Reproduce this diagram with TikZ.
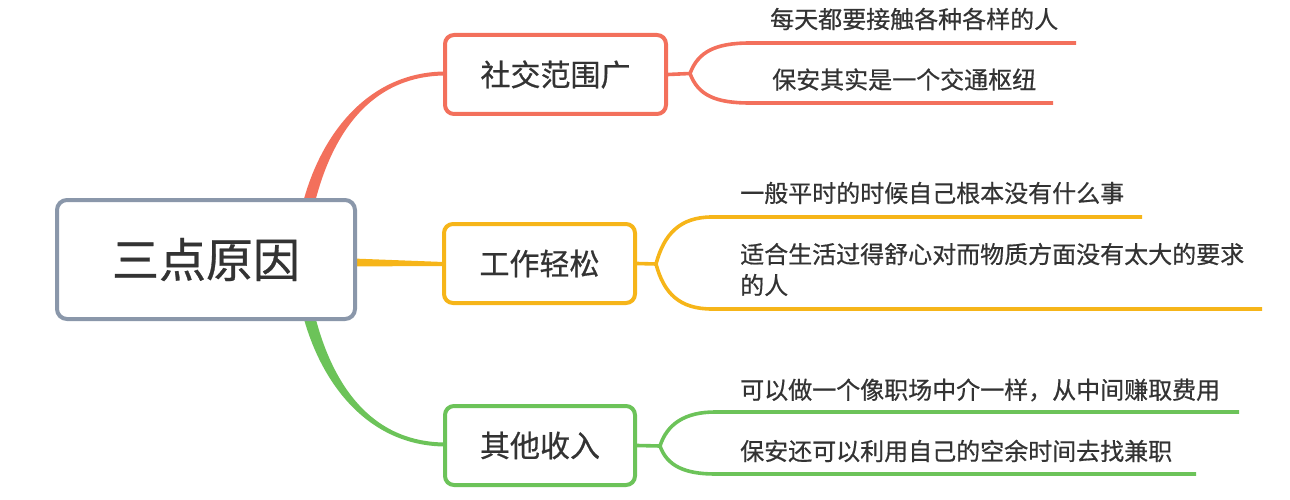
\documentclass[tikz,border=0pt]{standalone}
\usepackage{fontspec}
\newfontfamily\cjk[FakeBold=0.6]{Noto Sans CJK SC}
\definecolor{cred}{HTML}{F3705C}
\definecolor{cyel}{HTML}{F6B519}
\definecolor{cgrn}{HTML}{6CC359}
\definecolor{cgray}{HTML}{8A97AA}
\definecolor{ctext}{HTML}{333333}
\tikzset{
  rootbox/.style={draw=cgray, line width=4pt, fill=white, rounded corners=10pt, text=ctext, font=\cjk\fontsize{47}{50}\selectfont, minimum width=298pt, minimum height=119pt, inner sep=0pt},
  branchbox/.style={draw=#1, line width=4pt, fill=white, rounded corners=9pt, text=ctext, font=\cjk\fontsize{30}{34}\selectfont, minimum height=79pt, inner sep=0pt},
  leaftext/.style={anchor=west, inner sep=0pt, text=ctext, font=\cjk\fontsize{24}{31}\selectfont, align=left},
  leafline/.style={draw=#1, line width=3.6pt}
}
\begin{document}
\begin{tikzpicture}[x=1pt,y=-1pt]
\useasboundingbox (0,0) rectangle (1290,500);
% positions
\coordinate (f1) at (690,73.5);
\coordinate (f2) at (656,264);
\coordinate (f3) at (660,446);
\coordinate (e11) at (1076,43);
\coordinate (e12) at (1053,103);
\coordinate (e21) at (1142,217);
\coordinate (e22) at (1262,309);
\coordinate (e31) at (1239,412);
\coordinate (e32) at (1196,474);
% main tapered connectors (behind nodes)
\fill[cred] (300,215) .. controls (316,140) and (365,71.5) .. (446,71.5) -- (446,75.5) .. controls (367,75.5) and (328,140) .. (312,215) -- cycle;
\fill[cgrn] (300,303) .. controls (316,378) and (365,446.5) .. (446,446.5) -- (446,442.5) .. controls (367,442.5) and (328,378) .. (312,303) -- cycle;
\fill[cyel] (340,258) -- (444,262) -- (444,266) -- (340,266.5) -- cycle;
% root and branches
\node[rootbox] (root) at (206,259.5) {\raisebox{-2pt}{三点原因}};
\node[branchbox=cred, minimum width=221pt] (b1) at (555.5,74.5) {社交范围广};
\node[branchbox=cyel, minimum width=191pt] (b2) at (539.5,263.5) {工作轻松};
\node[branchbox=cgrn, minimum width=190pt] (b3) at (540,445.5) {其他收入};
% leaves
\node[leaftext] (l11) at (770,19) {每天都要接触各种各样的人};
\node[leaftext] (l12) at (772,79.5) {保安其实是一个交通枢纽};
\node[leaftext] (l21) at (740,193) {一般平时的时候自己根本没有什么事};
\node[leaftext] (l22) at (740,269.5) {适合生活过得舒心对而物质方面没有太大的要求\\的人};
\node[leaftext] (l31) at (740,390) {可以做一个像职场中介一样，从中间赚取费用};
\node[leaftext] (l32) at (740,451) {保安还可以利用自己的空余时间去找兼职};
% leaf connectors
\draw[leafline=cred] (b1.east) -- (f1);
\draw[leafline=cred] (f1) .. controls (698,52) and (715,43) .. (750,43) -- (e11);
\draw[leafline=cred] (f1) .. controls (698,95) and (715,103) .. (750,103) -- (e12);
\draw[leafline=cyel] (b2.east) -- (f2);
\draw[leafline=cyel] (f2) .. controls (664,234) and (680,217) .. (712,217) -- (e21);
\draw[leafline=cyel] (f2) .. controls (664,294) and (680,309) .. (712,309) -- (e22);
\draw[leafline=cgrn] (b3.east) -- (f3);
\draw[leafline=cgrn] (f3) .. controls (667,424) and (685,412) .. (715,412) -- (e31);
\draw[leafline=cgrn] (f3) .. controls (667,466) and (685,474) .. (715,474) -- (e32);
\end{tikzpicture}
\end{document}
